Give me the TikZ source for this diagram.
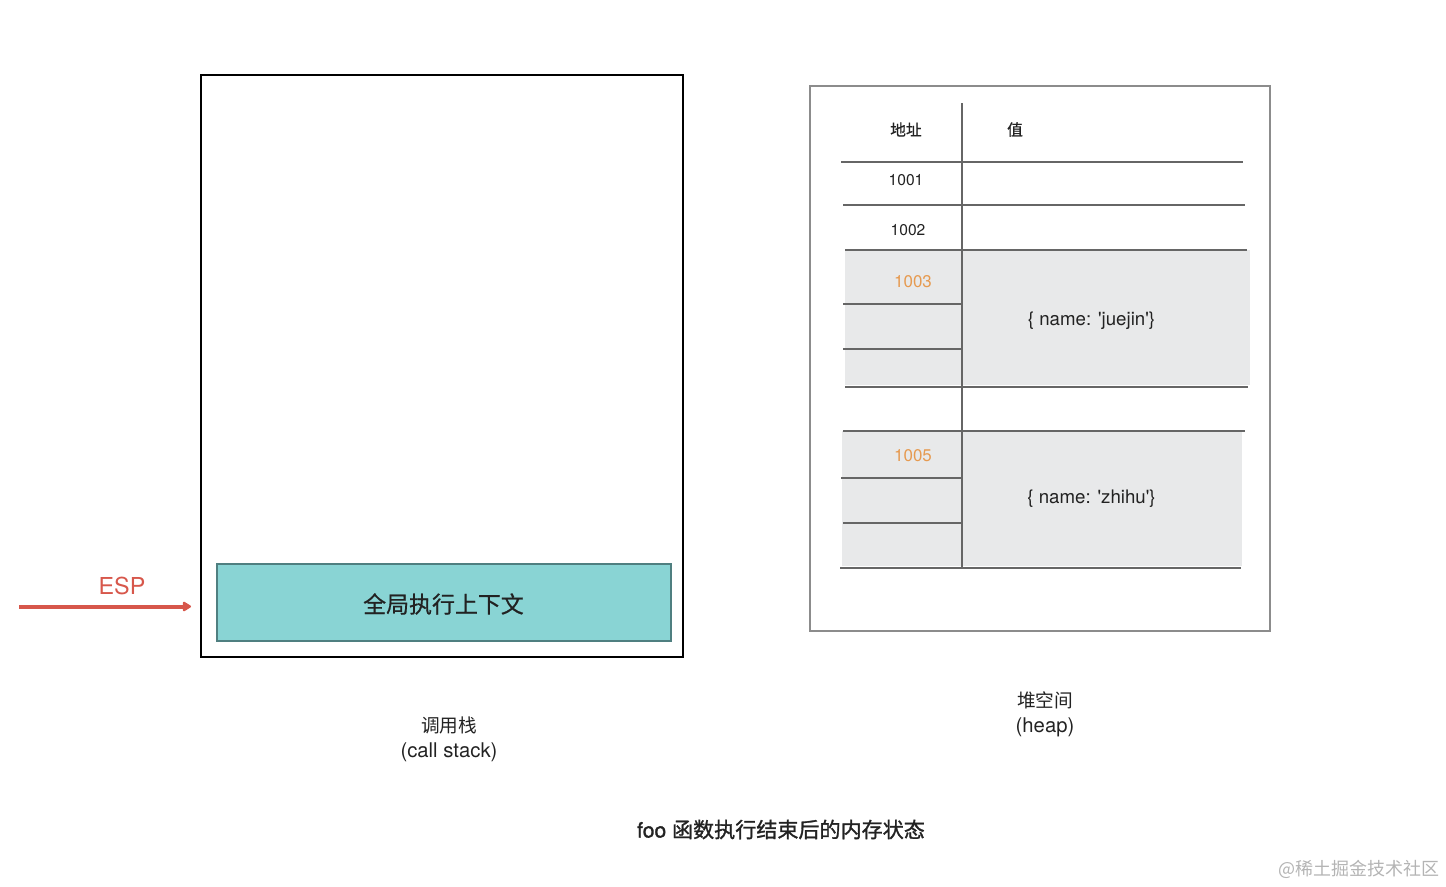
\documentclass[tikz,border=0pt]{standalone}
\usepackage{fontspec}
\setmainfont{TeX Gyre Heros}
\newfontfamily\cjk{Noto Sans CJK SC}
\newfontfamily\cjkm[FakeBold=0.6]{Noto Sans CJK SC}
\newfontfamily\cjkcap[FakeBold=1.3]{Noto Sans CJK SC}
\newfontfamily\heroscap[FakeBold=1.3]{TeX Gyre Heros}
\usetikzlibrary{arrows.meta}
\definecolor{tealfill}{HTML}{89D4D4}
\definecolor{tealline}{HTML}{4F7F80}
\definecolor{greyfill}{HTML}{E8E9EA}
\definecolor{tableline}{HTML}{666666}
\definecolor{heapline}{HTML}{8C8C8C}
\definecolor{addrorange}{HTML}{E69A50}
\definecolor{esped}{HTML}{D7574B}
\definecolor{txt}{HTML}{222222}
\definecolor{wm}{HTML}{B4B4B4}
\tikzset{
  tline/.style={draw=tableline, line width=1.1pt},
  addr/.style={text=txt, font=\fontsize{11.7}{13}\selectfont, inner sep=0pt},
  oaddr/.style={text=addrorange, font=\fontsize{12.7}{14}\selectfont, inner sep=0pt},
  val/.style={text=txt, font=\fontsize{14}{16}\selectfont, inner sep=0pt},
  head/.style={text=txt, font=\cjkm\fontsize{11.8}{13}\selectfont, inner sep=0pt},
  lbltext/.style={text=txt, font=\fontsize{15.2}{18}\selectfont, inner sep=0pt, align=center},
}
\newcommand{\sq}{\textquotesingle}
\begin{document}
\begin{tikzpicture}[x=0.75pt,y=-0.75pt]
\useasboundingbox (0,0) rectangle (1446,886);
% call stack
\node[draw=black, line width=1.8pt, minimum width=482*0.75pt, minimum height=582*0.75pt, inner sep=0pt] (stack) at (442,366) {};
\node[draw=tealline, fill=tealfill, line width=0.8pt, minimum width=454*0.75pt, minimum height=77*0.75pt, inner sep=0pt, text=txt] (gctx) at (444,602.5) {};
\node[text=txt, font=\cjkm\fontsize{17.2}{19}\selectfont, inner sep=0pt] (gctxtext) at (443.5,604) {全局执行上下文};
\coordinate (espstart) at (19,606.5);
\coordinate (espend) at (191,606.5);
\draw[esped, line width=3pt, -{Triangle[length=7pt,width=8pt,round]}] (espstart) -- (espend);
\node[text=esped, font=\fontsize{17.5}{20}\selectfont, inner sep=0pt] (esp) at (122,586) {ESP};
\node[lbltext] (stacklbl) at (449,739) {{\cjk\fontsize{14}{18}\selectfont 调用栈}\\[1pt](call stack)};
% heap
\node[draw=heapline, line width=1.1pt, minimum width=460*0.75pt, minimum height=545*0.75pt, inner sep=0pt] (heap) at (1040,358.5) {};
\fill[greyfill] (845,250) rectangle (1250,385);
\fill[greyfill] (842,431) rectangle (1242,566);
\draw[tline] (962,103) -- (962,568);
\draw[tline] (841,162) -- (1243,162);
\draw[tline] (843,205) -- (1245,205);
\draw[tline] (845,250) -- (1247,250);
\draw[tline] (843,304) -- (962,304);
\draw[tline] (843,349) -- (962,349);
\draw[tline] (845,387) -- (1248,387);
\draw[tline] (843,431) -- (1245,431);
\draw[tline] (841,478) -- (962,478);
\draw[tline] (843,523) -- (962,523);
\draw[tline] (840,568) -- (1241,568);
\node[head] (haddr) at (906,129.5) {地址};
\node[head] (hval) at (1015,129.5) {值};
\node[addr] (a1001) at (906,180.5) {1001};
\node[addr] (a1002) at (908,230.5) {1002};
\node[oaddr] (a1003) at (913,281.5) {1003};
\node[val] (v1003) at (1091.5,320.5) {\{ name: \sq juejin\sq\}};
\node[oaddr] (a1005) at (913,455.5) {1005};
\node[val] (v1005) at (1091.5,498.5) {\{ name: \sq zhihu\sq\}};
\node[lbltext] (heaplbl) at (1045,714) {{\cjk\fontsize{14}{18}\selectfont 堆空间}\\[1pt](heap)};
% caption
\node[text=txt, font=\fontsize{15.8}{18}\selectfont, inner sep=0pt] (caption) at (781,829.5) {{\heroscap foo} {\cjkcap 函数执行结束后的内存状态}};
\node[text=wm, font=\cjk\fontsize{13.5}{16}\selectfont, inner sep=0pt] (wmark) at (1359,869) {@稀土掘金技术社区};
\end{tikzpicture}
\end{document}
